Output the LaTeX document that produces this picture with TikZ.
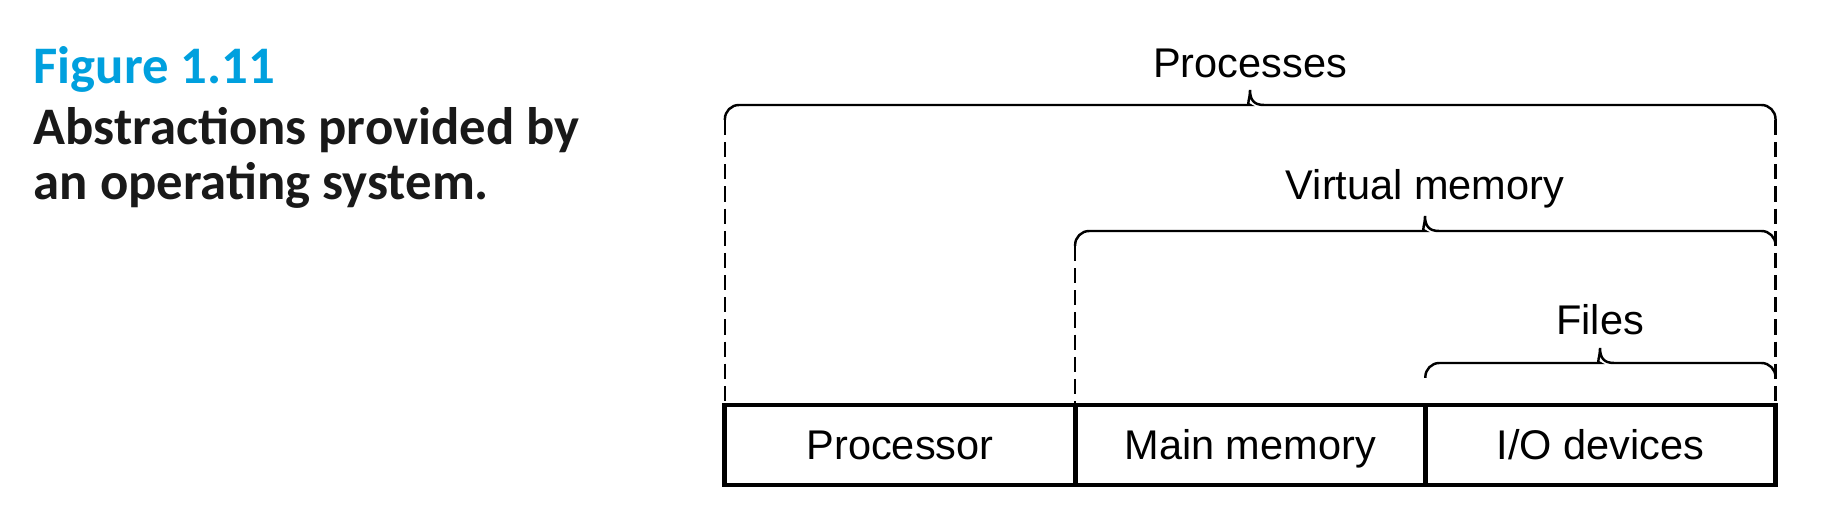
\documentclass[tikz,border=0pt]{standalone}
\usepackage{fontspec}
\setmainfont{Liberation Sans}
\newfontfamily\capfont{Carlito}
\usetikzlibrary{positioning}
\definecolor{figblue}{RGB}{0,160,222}
\tikzset{
  cell/.style={draw, line width=1.4pt, minimum width=3.5cm, minimum height=0.8cm, inner sep=0pt, outer sep=0pt,
    text height=8.4pt, text depth=0pt, font=\fontsize{11.8}{14}\selectfont},
  bracket/.style={line width=0.7pt, rounded corners=4pt},
  guide/.style={line width=0.7pt, dash pattern=on 4.3pt off 2pt},
  tag/.style={anchor=base, inner sep=0pt, font=\fontsize{11.8}{14}\selectfont},
  caption/.style={anchor=base west, inner sep=0pt, font=\capfont\bfseries\fontsize{15}{18}\selectfont}
}

\begin{document}
\begin{tikzpicture}[x=0.01cm, y=-0.01cm]
  \useasboundingbox (0,0) rectangle (1822,522);

  % figure caption
  \node[caption, text=figblue] (fignum) at (33,84) {Figure 1.11};
  \node[caption, text=black!90] (capline1) at (33,145) {Abstractions provided by};
  \node[caption, text=black!90] (capline2) at (33,200) {an operating system.};

  % the hardware
  \node[cell] (proc) at (900,445) {Processor};
  \node[cell, right=0pt of proc] (mem) {Main memory};
  \node[cell, right=0pt of mem] (io) {I/O devices};

  % processes
  \coordinate (pl) at (proc.north west |- 0,120);
  \coordinate (pr) at (io.north east |- 0,120);
  \draw[bracket] (pl) |- (1236,105) [sharp corners] .. controls (1246,105) and (1250,100) .. (1250,90)
    .. controls (1250,100) and (1254,105) .. (1264,105) [rounded corners=4pt] -| (pr);
  \node[tag] (processes) at (1250,78) {Processes};
  \draw[guide] (pl) -- (proc.north west);
  \draw[guide] (pr) -- (io.north east);

  % virtual memory
  \coordinate (vl) at (mem.north west |- 0,246);
  \coordinate (vr) at (io.north east |- 0,246);
  \draw[bracket] (vl) |- (1411,231) [sharp corners] .. controls (1421,231) and (1425,226) .. (1425,216)
    .. controls (1425,226) and (1429,231) .. (1439,231) [rounded corners=4pt] -| (vr);
  \node[tag] (vmem) at (1425,200) {Virtual memory};
  \draw[guide] (vl) -- (mem.north west);

  % files
  \coordinate (fl) at (io.north west |- 0,378);
  \coordinate (fr) at (io.north east |- 0,378);
  \draw[bracket] (fl) |- (1586,363) [sharp corners] .. controls (1596,363) and (1600,358) .. (1600,348)
    .. controls (1600,358) and (1604,363) .. (1614,363) [rounded corners=4pt] -| (fr);
  \node[tag] (files) at (1600,335) {Files};
\end{tikzpicture}
\end{document}
